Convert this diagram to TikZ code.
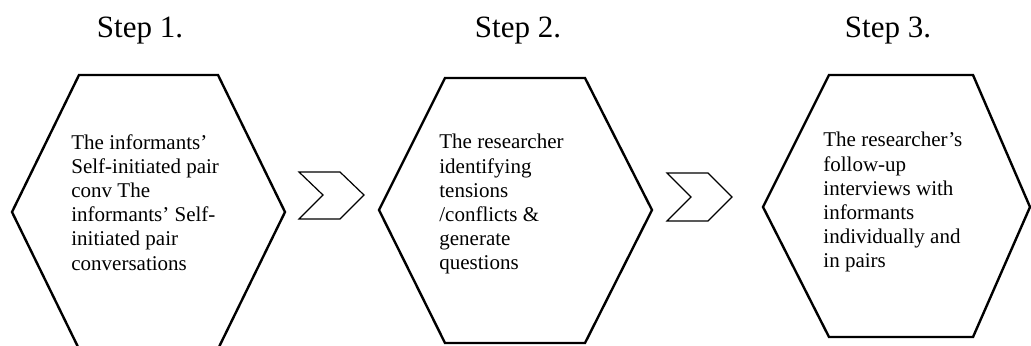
\documentclass[tikz,border=0pt]{standalone}
\usepackage{fontspec}
\setmainfont{Liberation Serif}
\usetikzlibrary{positioning}
\newcommand{\bodysize}{\fontsize{10.5}{12.1}\selectfont}
\newcommand{\stepsize}{\fontsize{15.5}{18}\selectfont}
\tikzset{
  hexa/.style={draw=black,line width=1.2pt,line join=miter},
  chev/.style={draw=black,line width=0.6pt,line join=miter},
  steplbl/.style={font=\stepsize,inner sep=0pt,anchor=base},
  body/.style={font=\bodysize,align=left,inner sep=0pt,anchor=north west},
}
\begin{document}
\begin{tikzpicture}[x=0.5pt,y=-0.5pt]
\clip (0,0) rectangle (1031,345);
% headings
\node[steplbl] (s1) at (140,37) {Step 1.};
\node[steplbl] (s2) at (518,37) {Step 2.};
\node[steplbl] (s3) at (888,37) {Step 3.};
% hexagons
\draw[hexa] (12,212) -- (79,75) -- (218,75) -- (285,212) -- (218,349) -- (79,349) -- cycle;
\draw[hexa] (379,210) -- (445,78) -- (585,78) -- (652,210) -- (585,343) -- (445,343) -- cycle;
\draw[hexa] (763,207) -- (829,75) -- (973,75) -- (1030,207) -- (973,337) -- (829,337) -- cycle;
% chevrons
\draw[chev] (299,172) -- (340,172) -- (364,195) -- (340,219) -- (299,219) -- (323,195) -- cycle;
\draw[chev] (667,173) -- (708,173) -- (732,197) -- (708,221) -- (667,221) -- (691,197) -- cycle;
% texts
\node[body] (t1) at (71,134) {The informants’\\Self-initiated pair\\conv The\\informants’ Self-\\initiated pair\\conversations};
\node[body] (t2) at (439,134) {The researcher\\identifying\\tensions\\/conflicts \&\\generate\\questions};
\node[body] (t3) at (823,132) {The researcher’s\\follow-up\\interviews with\\informants\\individually and\\in pairs};
\end{tikzpicture}
\end{document}
